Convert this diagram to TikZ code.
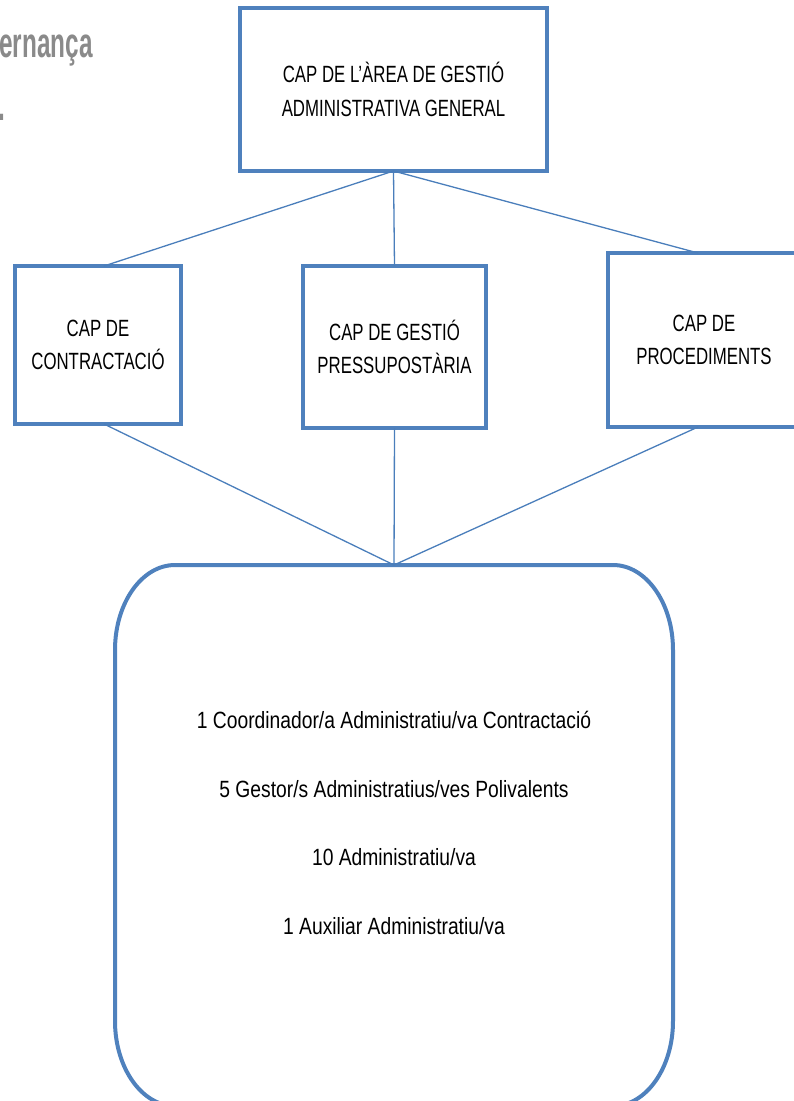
\documentclass[tikz,border=0pt]{standalone}
\usepackage{fontspec}
\usetikzlibrary{calc}
\newfontfamily\boxfont{Liberation Sans}[FakeStretch=0.715]
\newfontfamily\stafffont{Liberation Sans}[FakeStretch=0.82]
\newfontfamily\headfont{Liberation Sans}[FakeStretch=0.58]
\definecolor{boxblue}{RGB}{79,129,189}
\definecolor{lineblue}{RGB}{74,126,187}
\definecolor{headgray}{RGB}{138,138,138}
\begin{document}
\begin{tikzpicture}[x=1pt,y=-1pt,
  boxline/.style={draw=boxblue, line width=4pt},
  unit/.style={boxline, rectangle, inner sep=0pt, outer sep=0pt, align=center,
    font=\boxfont\fontsize{23.5}{33.5}\selectfont},
  link/.style={draw=lineblue, line width=1.3pt},
  headtext/.style={anchor=base west, text=headgray, inner sep=0pt,
    font=\headfont\bfseries\fontsize{42}{42}\selectfont}]
\useasboundingbox (0,0) rectangle (793,1101);

\node[headtext] (gov) at (-1,57) {ernança};
\node[headtext] (dot) at (-2,120) {.};

\node[unit, minimum width=307pt, minimum height=163pt] (head) at (393.5,89.5)
  {CAP DE L’ÀREA DE GESTIÓ\\ADMINISTRATIVA GENERAL};
\node[unit, minimum width=166pt, minimum height=158pt] (contr) at (98,345)
  {CAP DE\\CONTRACTACIÓ};
\node[unit, minimum width=183pt, minimum height=162pt] (press) at (394.5,347)
  {CAP DE GESTIÓ\\PRESSUPOSTÀRIA};
\node[unit, minimum width=192pt, minimum height=174pt] (proc) at (704,340)
  {CAP DE\\PROCEDIMENTS};

\node[minimum width=558pt, minimum height=541pt, inner sep=0pt, outer sep=0pt] (staff) at (394,835.5) {};
\draw[boxline] ($(staff.north west)+(60,0)$) -- ($(staff.north east)+(-60,0)$)
  arc[start angle=-90, end angle=0, x radius=60, y radius=85]
  -- ($(staff.south east)+(0,-85)$)
  arc[start angle=0, end angle=90, x radius=60, y radius=85]
  -- ($(staff.south west)+(60,0)$)
  arc[start angle=90, end angle=180, x radius=60, y radius=85]
  -- ($(staff.north west)+(0,85)$)
  arc[start angle=180, end angle=270, x radius=60, y radius=85] -- cycle;
\node[align=center, inner sep=0pt, font=\stafffont\fontsize{23.5}{68.5}\selectfont] (stafftext)
  at ($(staff.center)+(0,-12.5)$)
  {1 Coordinador/a Administratiu/va Contractació\\
   5 Gestor/s Administratius/ves Polivalents\\
   10 Administratiu/va\\
   1 Auxiliar Administratiu/va};

\draw[link] (head.south) -- ($(contr.north)+(6,0)$);
\draw[link] (head.south) -- (press.north);
\draw[link] (head.south) -- ($(proc.north)+(-6,0)$);
\draw[link] ($(contr.south)+(6,0)$) -- (staff.north);
\draw[link] (press.south) -- (staff.north);
\draw[link] ($(proc.south)+(-6,0)$) -- (staff.north);
\end{tikzpicture}
\end{document}
